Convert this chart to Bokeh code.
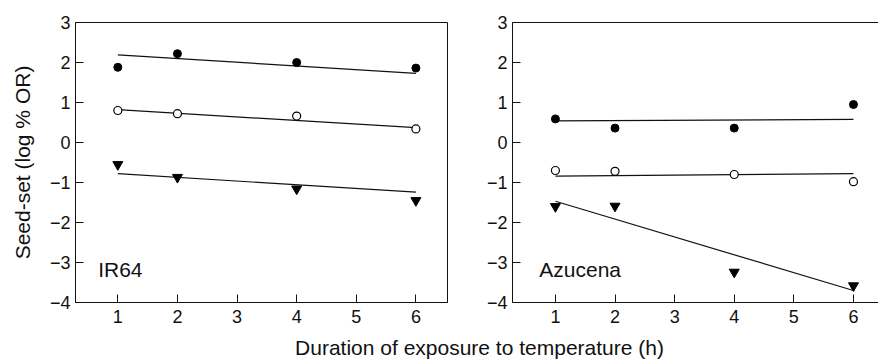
from bokeh.plotting import figure
from bokeh.layouts import column, row
from bokeh.models import FixedTicker, Label, LinearAxis, Range1d, CustomJSTickFormatter
from bokeh.embed import file_html
from bokeh.resources import INLINE

# ---------------- data ----------------
hours = [1, 2, 4, 6]
fit_x = [1, 6]

# IR64
ir64_filled = [1.88, 2.22, 2.00, 1.86]
ir64_open = [0.80, 0.72, 0.66, 0.34]
ir64_tri = [-0.55, -0.87, -1.16, -1.45]
ir64_fit_filled = [2.19, 1.73]
ir64_fit_open = [0.82, 0.37]
ir64_fit_tri = [-0.78, -1.24]

# Azucena
azu_filled = [0.59, 0.36, 0.36, 0.95]
azu_open = [-0.70, -0.72, -0.80, -0.98]
azu_tri = [-1.60, -1.59, -3.24, -3.58]
azu_fit_filled = [0.54, 0.58]
azu_fit_open = [-0.84, -0.78]
azu_fit_tri = [-1.47, -3.70]

x_ticks = [1, 2, 3, 4, 5, 6]
y_ticks = [-4, -3, -2, -1, 0, 1, 2, 3]
y_tick_labels = ["\u22124", "\u22123", "\u22122", "\u22121", "0", "1", "2", "3"]

FONT = "Liberation Sans"
TICK_SIZE = "18px"
LABEL_SIZE = "21px"
INK = "#111111"


def style_axis(ax, ticks, standoff=5):
    ax.ticker = FixedTicker(ticks=ticks)
    ax.major_tick_in = 8
    ax.major_tick_out = 0
    ax.minor_tick_line_color = None
    ax.axis_line_color = INK
    ax.major_tick_line_color = INK
    ax.major_label_text_font = FONT
    ax.major_label_text_font_size = TICK_SIZE
    ax.major_label_text_color = INK
    ax.major_label_standoff = standoff


y_formatter_code = """
const vals = %s;
const labs = %s;
for (let i = 0; i < vals.length; i++) {
  if (Math.abs(vals[i] - tick) < 1e-9) { return labs[i]; }
}
return tick.toString();
""" % (str(y_ticks), "[" + ",".join('"%s"' % l for l in y_tick_labels) + "]")

ROW_H = 332


def make_panel(width, x_range, min_left, min_right, data, name, name_x, with_ylabel, full_outline):
    p = figure(width=width, height=ROW_H, x_range=x_range, y_range=Range1d(-4, 3),
               output_backend="svg", toolbar_location=None,
               min_border_left=min_left, min_border_right=min_right,
               min_border_top=22, min_border_bottom=ROW_H - 302)
    p.xgrid.visible = False
    p.ygrid.visible = False
    p.background_fill_color = "white"
    p.border_fill_color = "white"

    xax = p.below[0]
    yax = p.left[0]
    style_axis(xax, x_ticks, standoff=7)
    style_axis(yax, y_ticks, standoff=5)
    yax.formatter = CustomJSTickFormatter(code=y_formatter_code)

    if full_outline:
        p.outline_line_color = INK
        p.outline_line_width = 1
    else:
        p.outline_line_color = None
        top = LinearAxis(ticker=FixedTicker(ticks=[]), axis_line_color=INK,
                         major_tick_line_color=None, minor_tick_line_color=None,
                         major_label_text_font_size="0px", major_label_text_color=None)
        p.add_layout(top, "above")

    if with_ylabel:
        yax.axis_label = "Seed-set (log % OR)"
        yax.axis_label_text_font = FONT
        yax.axis_label_text_font_size = LABEL_SIZE
        yax.axis_label_text_font_style = "normal"
        yax.axis_label_text_color = INK
        yax.axis_label_standoff = 13

    filled, opened, tri, ff, fo, ft = data
    for fy in (ff, fo, ft):
        p.line(fit_x, fy, line_color=INK, line_width=1.2)
    p.scatter(hours, filled, marker="circle", size=8, fill_color="black", line_color="black")
    p.scatter(hours, opened, marker="circle", size=8, fill_color="white", line_color="black",
              line_width=1.2)
    p.scatter(hours, tri, marker="inverted_triangle", size=10, fill_color="black",
              line_color="black")

    p.add_layout(Label(x=name_x, y=-3.17, text=name, text_font=FONT,
                       text_font_size=LABEL_SIZE, text_baseline="middle",
                       text_align="left", text_color=INK))
    return p


p1 = make_panel(478, Range1d(0.29, 6.53), 75, 31,
                (ir64_filled, ir64_open, ir64_tri, ir64_fit_filled, ir64_fit_open, ir64_fit_tri),
                "IR64", 0.67, True, True)
p2 = make_panel(400, Range1d(0.28, 6.42), 34, 0,
                (azu_filled, azu_open, azu_tri, azu_fit_filled, azu_fit_open, azu_fit_tri),
                "Azucena", 0.73, False, False)

H3 = 359 - ROW_H
p3 = figure(width=878, height=H3, x_range=Range1d(0, 878), y_range=Range1d(0, H3),
            output_backend="svg", toolbar_location=None,
            x_axis_location=None, y_axis_location=None,
            min_border=0, min_border_left=0, min_border_right=0,
            min_border_top=0, min_border_bottom=0)
p3.xgrid.visible = False
p3.ygrid.visible = False
p3.outline_line_color = None
p3.add_layout(Label(x=479, y=H3 - (347 - ROW_H), text="Duration of exposure to temperature (h)",
                    text_font=FONT, text_font_size=LABEL_SIZE, text_align="center",
                    text_baseline="middle", text_color=INK))

layout = column(row(p1, p2, spacing=0), p3, spacing=0)

open("out.html", "w").write(file_html(layout, INLINE))
